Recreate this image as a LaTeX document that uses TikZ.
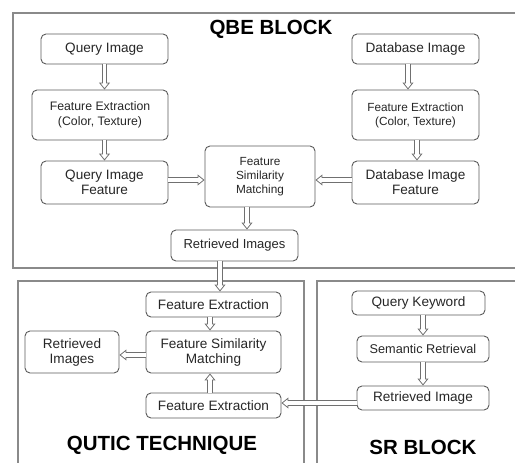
\documentclass[tikz,border=0pt]{standalone}
\usepackage{fontspec}
\setmainfont{Liberation Sans}
\usetikzlibrary{arrows.meta}

\definecolor{boxline}{HTML}{5A5A5A}
\definecolor{frameline}{HTML}{8A8A8A}
\definecolor{arrowline}{HTML}{707070}
\definecolor{txt}{HTML}{262626}

\tikzset{
  box/.style={draw=boxline, line width=0.9pt, rounded corners=5pt, align=center,
    inner sep=1pt, text=txt, font=\fontsize{13.6}{15}\selectfont},
  frame/.style={draw=frameline, line width=1.6pt},
  % outlined block arrow: grey band with a white core
  hollow/.style={draw=arrowline, line width=5.4pt,
    -{Triangle[open, length=7pt, width=11pt, line width=0.8pt]},
    postaction={draw=white, line width=3.8pt, -, shorten >=6pt}},
  title/.style={font=\fontsize{20.5}{22}\selectfont\bfseries, text=black}
}

\begin{document}
\begin{tikzpicture}[x=1pt,y=-1pt]
\clip (0,0) rectangle (515,463);

% block frames
\draw[frame] (13,13) rectangle (530,268);
\draw[frame] (18,480) -- (18,281) -- (304,281) -- (304,480);
\draw[frame] (317,480) -- (317,281) -- (530,281);

% QBE block
\node[title] (qbe) at (271,29) {QBE BLOCK};
\node[box, minimum width=127pt, minimum height=30pt] (qimg) at (104.5,49) {Query Image};
\node[box, minimum width=136pt, minimum height=50pt, font=\fontsize{12.3}{14.5}\selectfont] (qfe) at (100,115) {Feature Extraction\\(Color, Texture)};
\node[box, minimum width=127pt, minimum height=43pt] (qfeat) at (104.5,182.5) {Query Image\\Feature};
\node[box, minimum width=110pt, minimum height=61pt, font=\fontsize{11.8}{14}\selectfont] (fsm) at (260,176.5) {Feature\\Similarity\\Matching};
\node[box, minimum width=127pt, minimum height=30pt] (dbimg) at (415.5,49) {Database Image};
\node[box, minimum width=127pt, minimum height=50pt, font=\fontsize{11.8}{14}\selectfont] (dbfe) at (415.5,115) {Feature Extraction\\(Color, Texture)};
\node[box, minimum width=127pt, minimum height=43pt] (dbfeat) at (415.5,182.5) {Database Image\\Feature};
\node[box, minimum width=127pt, minimum height=31pt, font=\fontsize{13}{14.5}\selectfont] (ret) at (234.5,245.5) {Retrieved Images};

\draw[hollow] (qimg.south) -- (qimg.south |- qfe.north);
\draw[hollow] (qfeat.north |- qfe.south) -- (qfeat.north);
\draw[hollow] ([yshift=2.5pt]qfeat.east) -- ([yshift=2.5pt]qfeat.east -| fsm.west);
\draw[hollow] ([xshift=-7.5pt]dbimg.south) -- ([xshift=-7.5pt]dbimg.south |- dbfe.north);
\draw[hollow] ([xshift=1.5pt]dbfe.south) -- ([xshift=1.5pt]dbfe.south |- dbfeat.north);
\draw[hollow] ([yshift=2.5pt]dbfeat.west) -- ([yshift=2.5pt]dbfeat.west -| fsm.east);
\draw[hollow] ([xshift=-13pt]fsm.south) -- ([xshift=-13pt]fsm.south |- ret.north);

% QUTIC technique
\node[title] (qutic) at (162,445) {QUTIC TECHNIQUE};
\node[box, minimum width=135pt, minimum height=25pt] (qfe1) at (213.5,304.5) {Feature Extraction};
\node[box, minimum width=135pt, minimum height=42pt] (qsim) at (213.5,352) {Feature Similarity\\Matching};
\node[box, minimum width=94pt, minimum height=42pt] (qret) at (72,352) {Retrieved\\Images};
\node[box, minimum width=135pt, minimum height=25pt] (qfe2) at (213.5,405.5) {Feature Extraction};

\draw[hollow] ([xshift=-14.5pt]ret.south) -- ([xshift=-14.5pt]ret.south |- qfe1.north);
\draw[hollow] ([xshift=-3.5pt]qfe1.south) -- ([xshift=-3.5pt]qfe1.south |- qsim.north);
\draw[hollow] ([yshift=-3pt]qsim.west) -- ([yshift=-3pt]qsim.west -| qret.east);
\draw[hollow] ([xshift=-3.5pt]qfe2.north) -- ([xshift=-3.5pt]qfe2.north |- qsim.south);

% SR block
\node[title] (sr) at (423,447) {SR BLOCK};
\node[box, minimum width=133pt, minimum height=24pt] (kw) at (418.5,303) {Query Keyword};
\node[box, minimum width=132pt, minimum height=26pt, font=\fontsize{12.7}{14}\selectfont] (sem) at (423,349) {Semantic Retrieval};
\node[box, minimum width=132pt, minimum height=24pt] (rimg) at (423,398) {Retrieved Image};

\draw[hollow] (sem.north |- kw.south) -- (sem.north);
\draw[hollow] (sem.south) -- (rimg.north);
\draw[hollow] ([yshift=-5pt]rimg.west) -- ([yshift=-5pt]rimg.west -| qfe2.east);

\end{tikzpicture}
\end{document}
